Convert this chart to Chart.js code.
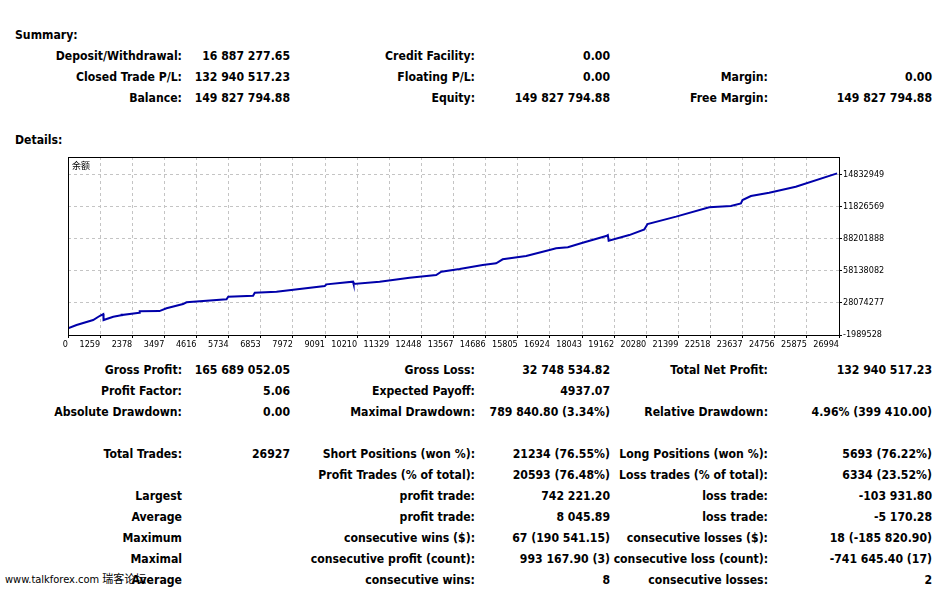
<!DOCTYPE html>
<html lang="en">
<head>
    <meta charset="UTF-8">
    <title>Strategy Tester Report</title>
    <script src="https://cdn.jsdelivr.net/npm/chart.js"></script>
    <style>
        body {
            margin: 0;
            width: 950px;
            height: 590px;
            position: relative;
            background: #ffffff;
            font-family: "DejaVu Sans Condensed", "DejaVu Sans", sans-serif;
            font-weight: bold;
            font-size: 12.15px;
            color: #000;
            overflow: hidden;
        }
        .t { position: absolute; white-space: nowrap; line-height: 14px; margin-top: 1px; }
        .head { left: 15px; }
        .l1 { right: 768px; }
        .v1 { right: 660px; }
        .l2 { right: 475px; }
        .v2 { right: 340px; }
        .l3 { right: 182px; }
        .v3 { right: 18px; }
        #chartBox { position: absolute; left: 60px; top: 150px; }
        .mark {
            position: absolute; left: 5px; top: 573px;
            font-weight: normal; font-size: 11px; line-height: 14px;
            font-family: "DejaVu Sans Condensed", "Noto Sans CJK SC", sans-serif;
        }
    </style>
</head>
<body>

    <!-- Summary block -->
    <div class="t head" style="top:27px">Summary:</div>

    <div class="t l1" style="top:48px">Deposit/Withdrawal:</div>
    <div class="t v1" style="top:48px">16 887 277.65</div>
    <div class="t l2" style="top:48px">Credit Facility:</div>
    <div class="t v2" style="top:48px">0.00</div>

    <div class="t l1" style="top:69px">Closed Trade P/L:</div>
    <div class="t v1" style="top:69px">132 940 517.23</div>
    <div class="t l2" style="top:69px">Floating P/L:</div>
    <div class="t v2" style="top:69px">0.00</div>
    <div class="t l3" style="top:69px">Margin:</div>
    <div class="t v3" style="top:69px">0.00</div>

    <div class="t l1" style="top:90px">Balance:</div>
    <div class="t v1" style="top:90px">149 827 794.88</div>
    <div class="t l2" style="top:90px">Equity:</div>
    <div class="t v2" style="top:90px">149 827 794.88</div>
    <div class="t l3" style="top:90px">Free Margin:</div>
    <div class="t v3" style="top:90px">149 827 794.88</div>

    <div class="t head" style="top:132px">Details:</div>

    <div id="chartBox">
        <canvas id="balanceChart" width="850" height="200"></canvas>
    </div>

    <!-- Details block -->
    <div class="t l1" style="top:362px">Gross Profit:</div>
    <div class="t v1" style="top:362px">165 689 052.05</div>
    <div class="t l2" style="top:362px">Gross Loss:</div>
    <div class="t v2" style="top:362px">32 748 534.82</div>
    <div class="t l3" style="top:362px">Total Net Profit:</div>
    <div class="t v3" style="top:362px">132 940 517.23</div>

    <div class="t l1" style="top:383px">Profit Factor:</div>
    <div class="t v1" style="top:383px">5.06</div>
    <div class="t l2" style="top:383px">Expected Payoff:</div>
    <div class="t v2" style="top:383px">4937.07</div>

    <div class="t l1" style="top:404px">Absolute Drawdown:</div>
    <div class="t v1" style="top:404px">0.00</div>
    <div class="t l2" style="top:404px">Maximal Drawdown:</div>
    <div class="t v2" style="top:404px">789 840.80 (3.34%)</div>
    <div class="t l3" style="top:404px">Relative Drawdown:</div>
    <div class="t v3" style="top:404px">4.96% (399 410.00)</div>

    <div class="t l1" style="top:446px">Total Trades:</div>
    <div class="t v1" style="top:446px">26927</div>
    <div class="t l2" style="top:446px">Short Positions (won %):</div>
    <div class="t v2" style="top:446px">21234 (76.55%)</div>
    <div class="t l3" style="top:446px">Long Positions (won %):</div>
    <div class="t v3" style="top:446px">5693 (76.22%)</div>

    <div class="t l2" style="top:467px">Profit Trades (% of total):</div>
    <div class="t v2" style="top:467px">20593 (76.48%)</div>
    <div class="t l3" style="top:467px">Loss trades (% of total):</div>
    <div class="t v3" style="top:467px">6334 (23.52%)</div>

    <div class="t l1" style="top:488px">Largest</div>
    <div class="t l2" style="top:488px">profit trade:</div>
    <div class="t v2" style="top:488px">742 221.20</div>
    <div class="t l3" style="top:488px">loss trade:</div>
    <div class="t v3" style="top:488px">-103 931.80</div>

    <div class="t l1" style="top:509px">Average</div>
    <div class="t l2" style="top:509px">profit trade:</div>
    <div class="t v2" style="top:509px">8 045.89</div>
    <div class="t l3" style="top:509px">loss trade:</div>
    <div class="t v3" style="top:509px">-5 170.28</div>

    <div class="t l1" style="top:530px">Maximum</div>
    <div class="t l2" style="top:530px">consecutive wins ($):</div>
    <div class="t v2" style="top:530px">67 (190 541.15)</div>
    <div class="t l3" style="top:530px">consecutive losses ($):</div>
    <div class="t v3" style="top:530px">18 (-185 820.90)</div>

    <div class="t l1" style="top:551px">Maximal</div>
    <div class="t l2" style="top:551px">consecutive profit (count):</div>
    <div class="t v2" style="top:551px">993 167.90 (3)</div>
    <div class="t l3" style="top:551px">consecutive loss (count):</div>
    <div class="t v3" style="top:551px">-741 645.40 (17)</div>

    <div class="t l1" style="top:572px">Average</div>
    <div class="t l2" style="top:572px">consecutive wins:</div>
    <div class="t v2" style="top:572px">8</div>
    <div class="t l3" style="top:572px">consecutive losses:</div>
    <div class="t v3" style="top:572px">2</div>

    <div class="mark">www.talkforex.com 瑞客论坛</div>

    <script>
        // balance curve (trade number -> balance)
        const tradeNo = [0, 300, 880, 1120, 1235, 1245, 1585, 1860, 1870, 1880, 2500, 2510,
            3200, 3450, 4030, 4150, 5550, 5610, 6480, 6540, 7300, 8990, 9050, 9980,
            10000, 10910, 11960, 12890, 13070, 13710, 14520, 14990, 15220, 16040, 16860,
            17090, 17500, 18020, 18840, 18900, 18930, 19650, 20180, 20290, 21290, 22450,
            23210, 23560, 23615, 23910, 24550, 25480, 26927];
        const balance = [4300000, 7400000, 12100000, 16100000, 17700000, 12100000, 15200000,
            16600000, 18000000, 16800000, 18900000, 20300000, 20500000, 23100000, 27100000,
            28700000, 31600000, 34000000, 34900000, 37800000, 38700000, 44000000, 45600000,
            48100000, 45900000, 48100000, 51800000, 54400000, 57500000, 60000000, 63800000,
            65400000, 69100000, 72200000, 77900000, 79500000, 80400000, 84700000, 91000000,
            91900000, 86600000, 91900000, 97300000, 102300000, 109200000, 118000000,
            119200000, 121700000, 124800000, 128600000, 131700000, 137300000, 149827795];

        // axis labels as printed in the report
        const xTickLabels = ['0', '1259', '2378', '3497', '4616', '5734', '6853', '7972', '9091',
            '10210', '11329', '12448', '13567', '14686', '15805', '16924', '18043', '19162',
            '20280', '21399', '22518', '23637', '24756', '25875', '26994'];
        const yTickValues = [-1989528, 28074277, 58138082, 88201888, 118265694, 148329494];
        const yTickLabels = ['-1989528', '28074277', '58138082', '88201888', '11826569', '14832949'];
        const seriesName = '余额';

        const xMax = 26994;
        const yMin = -1989528;
        const yMax = 165240000;

        const points = tradeNo.map((t, i) => ({ x: t, y: balance[i] }));
        const tickFont = { family: '"DejaVu Sans Condensed", "DejaVu Sans", sans-serif', size: 9 };

        // black frame round the plot and the series name in the corner
        const framePlugin = {
            id: 'frame',
            afterDraw(chart) {
                const { ctx, chartArea: a } = chart;
                ctx.save();
                ctx.strokeStyle = '#000';
                ctx.lineWidth = 1;
                ctx.setLineDash([]);
                ctx.strokeRect(a.left + 0.5, a.top + 0.5, a.right - a.left, a.bottom - a.top);
                ctx.fillStyle = '#000';
                ctx.font = '9px "Noto Sans CJK SC", sans-serif';
                ctx.textBaseline = 'middle';
                ctx.fillText(seriesName, a.left + 4, a.top + 9);
                ctx.restore();
            }
        };

        new Chart(document.getElementById('balanceChart'), {
            type: 'line',
            data: {
                datasets: [{
                    label: seriesName,
                    data: points,
                    borderColor: '#0000AA',
                    borderWidth: 2,
                    pointRadius: 0,
                    fill: false,
                    tension: 0
                }]
            },
            options: {
                responsive: false,
                animation: false,
                devicePixelRatio: 1,
                layout: { padding: { top: 7, left: 8, right: 0, bottom: 0 } },
                plugins: {
                    legend: { display: false },
                    tooltip: { enabled: false }
                },
                scales: {
                    x: {
                        type: 'linear',
                        min: 0,
                        max: xMax,
                        afterBuildTicks(scale) {
                            scale.ticks = xTickLabels.map((_, i) => ({ value: i * xMax / (xTickLabels.length - 1) }));
                        },
                        afterFit(scale) { scale.height = 15; },
                        grid: { color: '#c4c4c4', tickLength: 3, tickColor: '#000' },
                        border: { display: false, dash: [3, 3] },
                        ticks: {
                            autoSkip: false,
                            maxRotation: 0,
                            align: 'end',
                            padding: 1,
                            color: '#000',
                            font: tickFont,
                            callback: (v, i) => xTickLabels[i]
                        }
                    },
                    y: {
                        position: 'right',
                        min: yMin,
                        max: yMax,
                        afterBuildTicks(scale) {
                            scale.ticks = yTickValues.map(v => ({ value: v }));
                        },
                        afterFit(scale) { scale.width = 71; },
                        grid: { color: '#c4c4c4', tickLength: 3, tickColor: '#000' },
                        border: { display: false, dash: [3, 3] },
                        ticks: {
                            padding: 1,
                            color: '#000',
                            font: tickFont,
                            callback: (v, i) => yTickLabels[i]
                        }
                    }
                }
            },
            plugins: [framePlugin]
        });
    </script>

</body>
</html>
